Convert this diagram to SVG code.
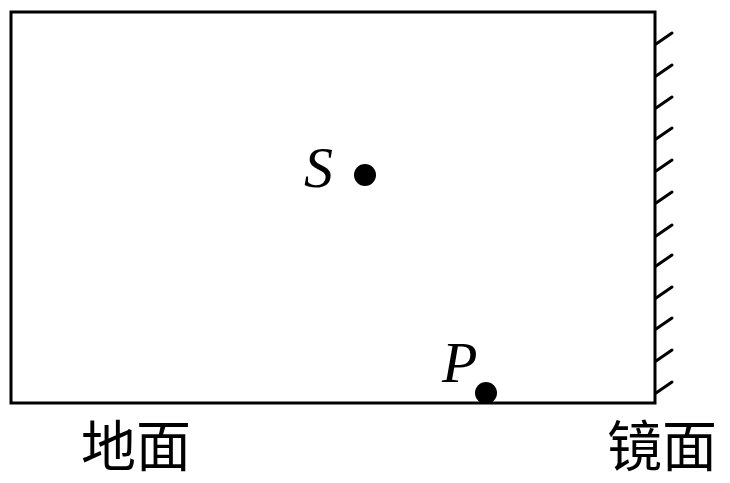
<svg xmlns="http://www.w3.org/2000/svg" width="730" height="483" viewBox="0 0 730 483">
<style>
.frame{fill:none;stroke:#000;stroke-width:3}
.hatch{stroke:#000;stroke-width:3;stroke-linecap:round}
.lbl{font-family:"Liberation Serif","Times New Roman",serif;font-style:italic;font-size:58px;fill:#000}
.cjk{font-family:"Noto Sans CJK SC","Noto Sans CJK JP",sans-serif;font-size:55px;fill:#000}
</style>
<rect width="730" height="483" fill="#fff"/>
<g id="room">
<rect class="frame" x="11" y="12" width="644" height="391"/>
</g>
<g id="mirror">
<path class="hatch" d="M656,44 l16,-11 M656,76 l16,-11 M656,108 l16,-11 M656,139 l16,-11 M656,171 l16,-11 M656,203 l16,-11 M656,236 l16,-11 M656,266 l16,-11 M656,298 l16,-11 M656,329 l16,-11 M656,361 l16,-11 M656,393 l16,-11"/>
</g>
<g id="S">
<text class="lbl" x="304" y="187">S</text>
<circle cx="365" cy="175" r="11" fill="#000"/>
</g>
<g id="P">
<text class="lbl" x="442" y="382">P</text>
<circle cx="486" cy="393" r="11" fill="#000"/>
</g>
<g id="labels">
<text class="cjk" x="81" y="466">地面</text>
<text class="cjk" x="607" y="466">镜面</text>
</g>
</svg>
